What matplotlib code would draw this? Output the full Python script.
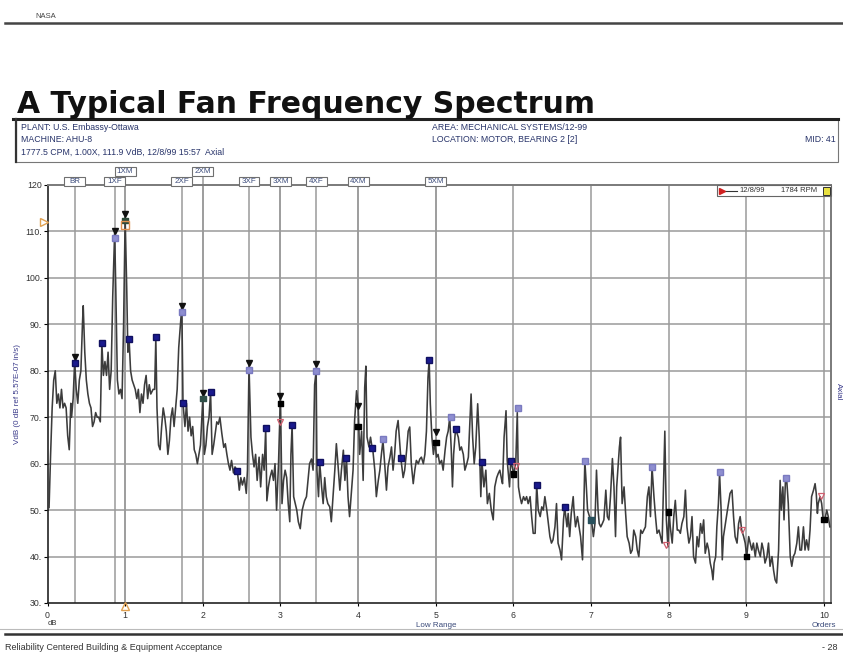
import matplotlib.pyplot as plt
import matplotlib.transforms as mtransforms
from matplotlib.patches import Rectangle
from matplotlib.lines import Line2D

plt.rcParams['font.family'] = ['Liberation Sans', 'DejaVu Sans']

W, H = 843, 654


def fx(px):
    return px / W


def fy(py):
    return 1 - py / H


# --- espectro (ordenes, VdB) ---
ordenes = [
    0.00, 0.02, 0.04, 0.06, 0.08, 0.10, 0.12, 0.14, 0.16, 0.18, 0.20, 0.22, 0.24, 0.26, 0.28, 0.30,
    0.31, 0.33, 0.35, 0.37, 0.39, 0.41, 0.43, 0.45, 0.46, 0.48, 0.50, 0.52, 0.54, 0.56, 0.58, 0.60,
    0.62, 0.64, 0.66, 0.68, 0.70, 0.72, 0.74, 0.76, 0.78, 0.80, 0.82, 0.84, 0.865, 0.88, 0.90, 0.92,
    0.94, 0.96, 0.98, 1.00, 1.02, 1.035, 1.05, 1.07, 1.09, 1.11, 1.13, 1.15, 1.17, 1.19, 1.21, 1.23,
    1.25, 1.27, 1.29, 1.31, 1.33, 1.36, 1.38, 1.395, 1.41, 1.43, 1.45, 1.47, 1.49, 1.51, 1.53, 1.55,
    1.57, 1.59, 1.61, 1.63, 1.65, 1.67, 1.69, 1.73, 1.745, 1.77, 1.79, 1.81, 1.83, 1.85, 1.87, 1.89,
    1.91, 1.93, 1.95, 1.97, 2.00, 2.02, 2.04, 2.06, 2.08, 2.10, 2.12, 2.14, 2.18, 2.20, 2.22, 2.245,
    2.27, 2.29, 2.31, 2.33, 2.35, 2.37, 2.395, 2.415, 2.445, 2.47, 2.49, 2.51, 2.535, 2.56, 2.575, 2.595,
    2.62, 2.64, 2.66, 2.68, 2.70, 2.725, 2.745, 2.77, 2.79, 2.81, 2.825, 2.845, 2.865, 2.89, 2.91, 2.93,
    2.95, 2.975, 3.00, 3.02, 3.04, 3.06, 3.08, 3.10, 3.12, 3.135, 3.15, 3.17, 3.19, 3.21, 3.23, 3.255,
    3.28, 3.31, 3.335, 3.355, 3.375, 3.40, 3.42, 3.44, 3.46, 3.47, 3.49, 3.505, 3.53, 3.55, 3.57, 3.59,
    3.61, 3.635, 3.655, 3.68, 3.70, 3.72, 3.74, 3.765, 3.785, 3.81, 3.83, 3.85, 3.87, 3.89, 3.915, 3.935,
    3.955, 3.98, 4.00, 4.02, 4.045, 4.065, 4.085, 4.10, 4.115, 4.14, 4.16, 4.18, 4.19, 4.215, 4.235, 4.26,
    4.28, 4.30, 4.32, 4.345, 4.365, 4.385, 4.41, 4.43, 4.45, 4.47, 4.49, 4.515, 4.55, 4.58, 4.60, 4.625,
    4.645, 4.665, 4.685, 4.71, 4.73, 4.75, 4.775, 4.795, 4.815, 4.84, 4.86, 4.88, 4.90, 4.915, 4.93, 4.95,
    4.97, 4.99, 5.01, 5.03, 5.05, 5.075, 5.095, 5.12, 5.14, 5.16, 5.18, 5.20, 5.215, 5.23, 5.255, 5.29,
    5.31, 5.33, 5.355, 5.375, 5.40, 5.42, 5.44, 5.455, 5.475, 5.495, 5.515, 5.54, 5.56, 5.58, 5.595, 5.62,
    5.645, 5.665, 5.69, 5.715, 5.74, 5.76, 5.785, 5.805, 5.825, 5.85, 5.86, 5.88, 5.905, 5.92, 5.95, 5.965,
    5.985, 6.005, 6.03, 6.05, 6.065, 6.085, 6.105, 6.13, 6.15, 6.17, 6.19, 6.215, 6.235, 6.255, 6.28, 6.30,
    6.32, 6.345, 6.365, 6.385, 6.405, 6.43, 6.45, 6.47, 6.49, 6.51, 6.535, 6.555, 6.575, 6.60, 6.62, 6.645,
    6.66, 6.69, 6.705, 6.725, 6.745, 6.77, 6.78, 6.80, 6.825, 6.845, 6.865, 6.89, 6.90, 6.92, 6.935, 6.955,
    6.98, 7.005, 7.03, 7.05, 7.07, 7.09, 7.105, 7.125, 7.145, 7.165, 7.19, 7.21, 7.23, 7.25, 7.275, 7.295,
    7.315, 7.33, 7.345, 7.365, 7.38, 7.40, 7.425, 7.445, 7.465, 7.49, 7.51, 7.53, 7.55, 7.575, 7.595, 7.615,
    7.64, 7.66, 7.68, 7.70, 7.725, 7.745, 7.765, 7.785, 7.81, 7.83, 7.85, 7.875, 7.895, 7.915, 7.935, 7.95,
    7.97, 7.99, 8.005, 8.02, 8.045, 8.065, 8.085, 8.11, 8.13, 8.15, 8.17, 8.195, 8.215, 8.235, 8.26, 8.28,
    8.30, 8.32, 8.345, 8.365, 8.385, 8.41, 8.43, 8.45, 8.47, 8.495, 8.515, 8.535, 8.555, 8.57, 8.585, 8.605,
    8.62, 8.64, 8.655, 8.675, 8.69, 8.705, 8.73, 8.75, 8.77, 8.79, 8.815, 8.835, 8.855, 8.88, 8.90, 8.92,
    8.94, 8.965, 8.985, 9.005, 9.03, 9.05, 9.07, 9.09, 9.115, 9.135, 9.155, 9.18, 9.20, 9.22, 9.24, 9.265,
    9.285, 9.305, 9.33, 9.35, 9.37, 9.39, 9.415, 9.435, 9.45, 9.47, 9.485, 9.505, 9.52, 9.54, 9.565, 9.585,
    9.605, 9.625, 9.65, 9.67, 9.69, 9.71, 9.735, 9.755, 9.775, 9.80, 9.82, 9.84, 9.865, 9.885, 9.90, 9.915,
    9.925, 9.95, 9.97, 9.99, 10.01, 10.035, 10.055, 10.075,
]
vdb = [
    51, 50.5, 62, 72, 78, 80, 73, 75, 72, 76, 72, 73, 72, 66, 63, 73,
    70, 74, 82, 76, 73, 78, 80, 90, 94, 84, 78, 75, 73, 72, 68, 69,
    71, 70, 70, 69, 86, 79, 82, 79, 84, 76, 80, 96, 110, 97, 78, 75,
    76, 74, 90, 113, 98, 84, 87, 80, 78, 77, 76, 74, 76, 71, 75, 73,
    77, 79, 74, 77, 75, 76, 76, 87, 72, 64, 63, 68, 72, 70, 67, 62,
    65, 70, 72, 68, 72, 76, 85, 94, 73, 68, 73, 67, 70, 66, 68, 63,
    62, 60, 62, 64, 74, 62, 64, 68, 70, 75.5, 62, 64, 69, 68.5, 70, 66.5,
    63.5, 64.3, 62, 60, 58.6, 60.7, 58, 59.3, 58.5, 54.3, 57, 55.4, 57, 53.6, 58.6, 81,
    65.7, 62, 59.3, 62, 56.4, 61.4, 55, 62, 58.6, 67.5, 52, 55, 57, 58.6, 56.4, 60,
    50, 60, 74.6, 51.4, 56.4, 58.6, 57, 51.4, 47.5, 62, 68.3, 52.9, 51.4, 50, 47.5, 46,
    50, 52, 52.9, 56.4, 60, 61, 58.6, 77, 80, 58.6, 52.9, 60.4, 55, 51.4, 57, 52.9,
    51.4, 50.7, 47.5, 53.6, 58.6, 64.3, 60, 54.3, 58.6, 62.9, 56.4, 61.3, 52.9, 48.6, 54.3, 58.6,
    69.3, 75.7, 72.9, 62, 67, 56.4, 76.4, 81, 65.7, 63.6, 65.7, 63.4, 62.9, 58.6, 52.9, 56.4,
    58.6, 62, 65, 59.3, 54.3, 59.3, 61.4, 63.6, 58.6, 62, 67, 69.3, 61.2, 57, 58.6, 62.9,
    67, 67.9, 60, 55.7, 58.6, 60.7, 60, 61, 61.4, 60, 62, 67, 78.6, 82.3, 72.9, 65.7,
    62, 64.6, 61.4, 62, 60, 60.7, 58.6, 62.9, 65.7, 67, 70, 62.9, 55, 62, 67.5, 65.7,
    62.9, 63.6, 62, 58.6, 60, 61.4, 69.3, 75, 65.7, 60, 63.6, 72.9, 65.7, 52.9, 60.4, 55,
    58.6, 51.4, 53.6, 50, 47.9, 55, 57, 57.9, 58.6, 56.4, 55.7, 65.7, 71.4, 60.7, 55, 60.4,
    59.3, 57.8, 60, 71, 55, 52.9, 51.4, 52.9, 52.1, 52.9, 51.4, 52.9, 48.6, 45, 45, 55.4,
    50, 48.6, 50.7, 50, 52.9, 50, 47.1, 44.3, 42.9, 43.6, 46.4, 51.4, 42.9, 41.4, 39.3, 47.9,
    50.7, 46.4, 49.3, 44.3, 49.3, 52.9, 50, 46.4, 48.6, 46.4, 44.3, 39.3, 45.7, 60.6, 56.4, 50,
    48.6, 47.9, 44.3, 47.1, 58.6, 50, 47.1, 46.4, 47.1, 47.9, 54.3, 48.6, 47.9, 52.9, 61.1, 55,
    44.3, 55, 58.6, 63.6, 65.7, 51.4, 55, 49.3, 44.3, 42.9, 40.7, 41.4, 45.7, 44.3, 41.4, 40,
    45.7, 45, 45.7, 46.4, 52.9, 55, 48.6, 59.3, 52.9, 48.6, 45, 45.7, 44.3, 42.9, 56.4, 67,
    47.9, 42.1, 50, 46.4, 42.9, 48.6, 52.1, 45.7, 45.7, 45, 47.1, 48.6, 54.3, 46.4, 42.9, 44.3,
    48.6, 40, 38.6, 44.3, 42.1, 47.1, 45, 47.9, 40.7, 42.9, 41.4, 38.6, 37.1, 35, 38.6, 40,
    46.4, 51.4, 58, 50, 39.3, 44.3, 47.1, 49.3, 51.4, 53.6, 54.3, 48.6, 44.3, 42.9, 47.1, 48.6,
    45.7, 44.3, 42.9, 40, 44.3, 42.9, 41.4, 42.9, 40, 42.9, 41.4, 40, 42.9, 41.4, 38.6, 40,
    42.9, 37.9, 40, 37.1, 35, 34.3, 41.4, 56.4, 50, 55, 47.9, 57.1, 56.4, 51.4, 40, 37.9,
    40, 40.7, 42.9, 46.4, 41.4, 41.4, 46.4, 41.4, 43.6, 41.4, 45.7, 52.9, 54.3, 55.7, 53.6, 49.3,
    51.4, 52.9, 51.4, 47.9, 47.9, 50, 48.6, 46.4,
]

# --- marcadores ---
picos_x = [0.35, 0.865, 1.0, 1.73, 2.0, 2.595, 3.0, 3.46, 4.0, 5.0]
picos_y = [83, 110, 113.7, 94, 75.3, 81.6, 74.6, 81.4, 72.5, 66.8]

fan_x = [0.865, 1.73, 2.595, 3.46, 4.325, 5.19, 6.055, 6.92, 7.785, 8.655, 9.515]
fan_y = [108.5, 92.7, 80.2, 80.0, 65.4, 70.0, 72.0, 60.6, 59.3, 58.2, 57.0]

br_x = [0.35, 0.70, 1.05, 1.395, 1.75, 2.10, 2.445, 2.81, 3.15, 3.505, 3.85, 4.18, 4.55, 4.915,
        5.255, 5.595, 5.965, 6.30, 6.66]
br_y = [81.6, 86.0, 86.8, 87.3, 73.0, 75.5, 58.5, 67.6, 68.3, 60.4, 61.3, 63.4, 61.2, 82.3,
        67.5, 60.4, 60.6, 55.4, 50.7]

motor_x = [1, 2, 3, 4, 5, 6, 7, 8, 9, 10]
motor_y = [112.4, 74.0, 73.0, 68.0, 64.6, 57.8, 47.9, 49.6, 40.0, 48.0]
motor_col = ['#2d4a3a', '#2f4f48', 'k', 'k', 'k', 'k', '#28505c', 'k', 'k', 'k']

rojos_x = [3.0, 6.03, 7.97, 8.94, 9.96]
rojos_y = [68.9, 59.5, 42.5, 45.7, 53.0]

# etiquetas de arriba: nombre, orden, fila
etiquetas = ['BR', '1XF', '1XM', '2XF', '2XM', '3XF', '3XM', '4XF', '4XM', '5XM']
etiq_x = [0.35, 0.865, 1.0, 1.73, 2.0, 2.595, 3.0, 3.46, 4.0, 5.0]
etiq_fila = [0, 0, 1, 0, 1, 0, 0, 0, 0, 0]

y_ticks = [30, 40, 50, 60, 70, 80, 90, 100, 110, 120]
y_tick_labels = ['30.', '40.', '50.', '60.', '70.', '80.', '90.', '100.', '110.', '120']
x_ticks = [0, 1, 2, 3, 4, 5, 6, 7, 8, 9, 10]

azul = '#28346a'

fig = plt.figure(figsize=(W / 100, H / 100), dpi=100)
ax = fig.add_axes([47.5 / W, 51 / H, 783.5 / W, 418 / H])
ax.set_xlim(0, 10.09)
ax.set_ylim(30, 120)

# rejilla
for v in y_ticks[1:-1]:
    ax.axhline(v, color='#9a9a9a', lw=1.1, zorder=1)
for v in x_ticks[1:]:
    ax.axvline(v, color='#9a9a9a', lw=1.1, zorder=1)
for v in etiq_x:
    ax.axvline(v, color='#9a9a9a', lw=1.1, zorder=1)

# espectro
ax.plot(ordenes, vdb, color='#3c3c3c', lw=1.15, zorder=3)

ax.plot(picos_x, picos_y, 'v', color='#111111', ms=4.5, zorder=5)
ax.plot(fan_x, fan_y, 's', color='#8e8ed0', mec='#7a7ac0', ms=4.2, zorder=5)
ax.plot(br_x, br_y, 's', color='#1a1a8e', mec='#101060', ms=4.2, zorder=5)
ax.scatter(motor_x, motor_y, marker='s', c=motor_col, s=16, zorder=5)
ax.plot(rojos_x, rojos_y, 'v', mfc='none', mec='#d06070', ms=4.5, mew=0.9, zorder=5)
ax.plot([1.0], [111.4], 's', mfc='none', mec='#e09050', ms=6, mew=1, zorder=6)
ax.plot([-0.045], [112], '>', mfc='none', mec='#e0a050', ms=6, mew=1, clip_on=False, zorder=6)
ax.plot([1.0], [29.4], '^', mfc='none', mec='#e0a050', ms=6, mew=1, clip_on=False, zorder=6)

# cajas de etiquetas arriba
trans = mtransforms.blended_transform_factory(ax.transData, ax.transAxes)
for nombre, xv, fila in zip(etiquetas, etiq_x, etiq_fila):
    y0 = 0.998 if fila == 0 else 1.022
    if fila == 1:
        ax.plot([xv, xv], [1.0, y0], color='#9a9a9a', lw=1.1, transform=trans, clip_on=False)
    ax.add_patch(Rectangle((xv - 0.135, y0), 0.27, 0.022, transform=trans, fc='white',
                           ec='#707070', lw=0.8, clip_on=False, zorder=7))
    ax.text(xv, y0 + 0.011, nombre, transform=trans, ha='center', va='center', fontsize=5.8,
            color='#3a4a7a', clip_on=False, zorder=8)

# ejes
for lado in ['left', 'bottom']:
    ax.spines[lado].set_color('#222222')
    ax.spines[lado].set_linewidth(1.2)
for lado in ['top', 'right']:
    ax.spines[lado].set_color('#7a7a7a')
    ax.spines[lado].set_linewidth(1.4)

ax.set_yticks(y_ticks)
ax.set_yticklabels(y_tick_labels)
ax.set_xticks(x_ticks)
ax.set_xticklabels([str(v) for v in x_ticks])
ax.tick_params(axis='y', length=3, width=0.8, labelsize=6.3, labelcolor='#333333', pad=1)
ax.tick_params(axis='x', length=2, width=0.8, labelsize=6.3, labelcolor='#333333', pad=4)
ax.set_ylabel('VdB (0 dB ref 5.57E-07 in/s)', fontsize=5.8, color='#3a3a8a')
ax.yaxis.set_label_coords(-0.034, 0.5)

ax.text(0, -0.05, 'dB', transform=trans, fontsize=5.5, color='#333333', ha='left', va='center')
ax.text(5, -0.055, 'Low Range', transform=trans, fontsize=5.8, color='#3a4a7a', ha='center', va='center')
ax.text(10, -0.055, 'Orders', transform=trans, fontsize=5.8, color='#3a4a7a', ha='center', va='center')

# leyenda arriba a la derecha
fig.add_artist(Rectangle((fx(717), fy(196)), 114 / W, 11 / H, transform=fig.transFigure,
                         fc='white', ec='#666666', lw=0.8, zorder=9))
fig.add_artist(Line2D([fx(722), fx(737)], [fy(190.5)] * 2, color='#333333', lw=0.8,
                      transform=fig.transFigure, zorder=10))
fig.add_artist(Line2D([fx(722)], [fy(190.5)], marker='>', color='#d02020', ms=4,
                      transform=fig.transFigure, zorder=10))
fig.text(fx(739), fy(190.5), '12/8/99', fontsize=5.5, color='#333333', va='center', zorder=10)
fig.text(fx(781), fy(190.5), '1784 RPM', fontsize=5.5, color='#333333', va='center', zorder=10)
fig.add_artist(Rectangle((fx(823), fy(194.5)), 7 / W, 8 / H, transform=fig.transFigure,
                         fc='#e8e040', ec='#333333', lw=0.7, zorder=10))

fig.text(fx(838), fy(392), 'Axial', fontsize=5.8, color='#3a3a8a', rotation=270,
         ha='center', va='center')

# cabecera de la pagina
fig.text(fx(35), fy(16), 'NASA', fontsize=5.5, color='#444444', va='center')
fig.add_artist(Line2D([fx(5), fx(843)], [fy(22.5)] * 2, color='#444444', lw=1.8,
                      transform=fig.transFigure))
fig.text(fx(17), fy(113), 'A Typical Fan Frequency Spectrum', fontsize=21.5, fontweight='bold',
         family='DejaVu Sans', color='#111111', va='baseline')

# caja de datos de la maquina
fig.add_artist(Rectangle((fx(16), fy(162)), 822 / W, 43 / H, transform=fig.transFigure,
                         fill=False, ec='#777777', lw=0.8))
fig.add_artist(Line2D([fx(13), fx(838)], [fy(119)] * 2, color='#222222', lw=2.2,
                      transform=fig.transFigure))
fig.add_artist(Line2D([fx(16), fx(16)], [fy(119), fy(162)], color='#333333', lw=1.6,
                      transform=fig.transFigure))
fig.text(fx(21), fy(128), 'PLANT: U.S. Embassy-Ottawa', fontsize=6.3, color=azul, va='center')
fig.text(fx(21), fy(140), 'MACHINE: AHU-8', fontsize=6.3, color=azul, va='center')
fig.text(fx(21), fy(152), '1777.5 CPM, 1.00X, 111.9 VdB, 12/8/99 15:57  Axial', fontsize=6.3,
         color=azul, va='center')
fig.text(fx(432), fy(128), 'AREA: MECHANICAL SYSTEMS/12-99', fontsize=6.3, color=azul, va='center')
fig.text(fx(432), fy(140), 'LOCATION: MOTOR, BEARING 2 [2]', fontsize=6.3, color=azul, va='center')
fig.text(fx(836), fy(140), 'MID: 41', fontsize=6.3, color=azul, va='center', ha='right')

# pie de pagina
fig.add_artist(Line2D([fx(0), fx(843)], [fy(629)] * 2, color='#bbbbbb', lw=0.8,
                      transform=fig.transFigure))
fig.add_artist(Line2D([fx(5), fx(843)], [fy(633.5)] * 2, color='#333333', lw=1.8,
                      transform=fig.transFigure))
fig.text(fx(5), fy(648), 'Reliability Centered Building & Equipment Acceptance', fontsize=6.5,
         color='#333333', va='center')
fig.text(fx(822), fy(648), '- 28', fontsize=6.5, color='#333333', va='center')

fig.savefig('out.png', dpi=100)
